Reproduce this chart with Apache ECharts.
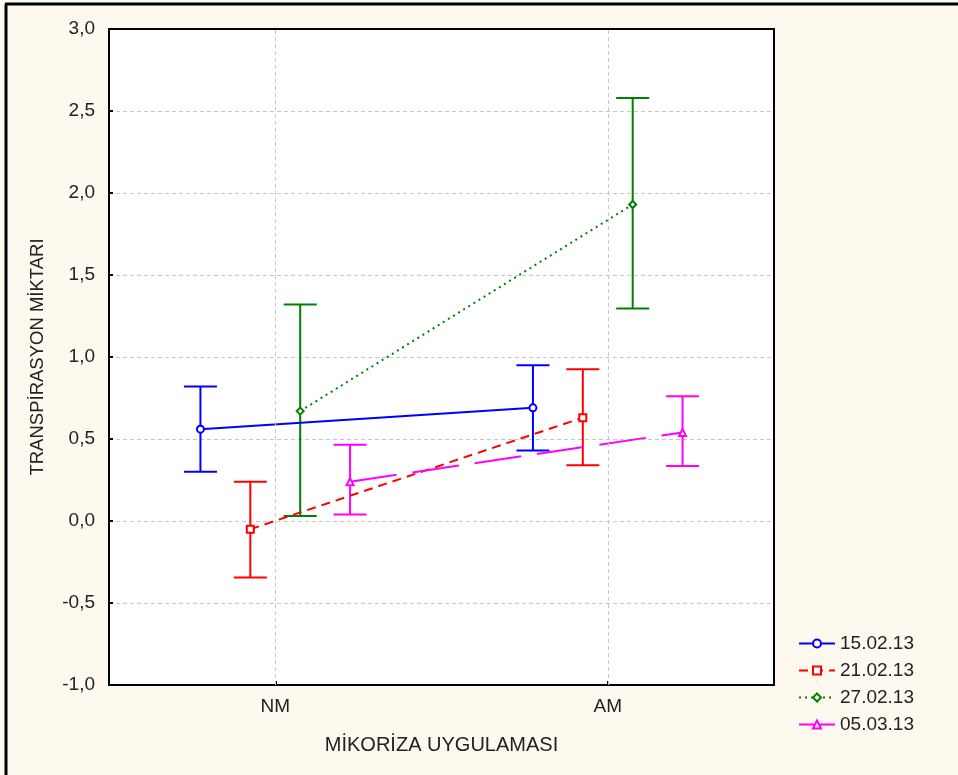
<!DOCTYPE html>
<html>
<head>
<meta charset="utf-8">
<script src="https://cdn.jsdelivr.net/npm/echarts@6/dist/echarts.min.js"></script>
<style>
  html, body { margin: 0; padding: 0; background: #fdf9ef; }
  #chart { width: 958px; height: 775px; }
</style>
</head>
<body>
<div id="chart"></div>
<script>
// gruplar (x ekseni)
const categories = ['NM', 'AM'];
const dates = ['15.02.13', '21.02.13', '27.02.13', '05.03.13'];
// her tarih için grup içi kaydırma (kategori birimi)
const offsets = [-0.225, -0.075, 0.075, 0.225];

// ortalama değerler [NM, AM]
const mean1502 = [0.56, 0.69];
const mean2102 = [-0.05, 0.63];
const mean2702 = [0.67, 1.93];
const mean0503 = [0.24, 0.54];

// hata çubukları alt / üst [NM, AM]
const low1502 = [0.30, 0.43];
const high1502 = [0.82, 0.95];
const low2102 = [-0.345, 0.34];
const high2102 = [0.24, 0.925];
const low2702 = [0.03, 1.295];
const high2702 = [1.32, 2.58];
const low0503 = [0.04, 0.335];
const high0503 = [0.465, 0.76];

const yTicks = [-1, -0.5, 0, 0.5, 1, 1.5, 2, 2.5, 3];

const means = [mean1502, mean2102, mean2702, mean0503];
const lows = [low1502, low2102, low2702, low0503];
const highs = [high1502, high2102, high2702, high0503];
const colors = ['#0000ff', '#ff0000', '#008000', '#ff00ff'];
const symbols = ['emptyCircle', 'emptyRect', 'emptyDiamond', 'emptyTriangle'];
const dashes = ['solid', [9, 6], [2, 4], [47, 16]];

let chart = echarts.init(document.getElementById('chart'));

let series = [];

// dikey kılavuz çizgileri NM / AM
series.push({
  name: 'grid',
  type: 'line',
  data: [],
  z: 0,
  silent: true,
  markLine: {
    symbol: 'none',
    silent: true,
    label: { show: false },
    lineStyle: { color: '#c8c8c8', type: [4, 3], width: 1 },
    data: categories.map((c, i) => ({ xAxis: i + 1 })),
  },
});

// hata çubukları
dates.forEach((d, k) => {
  series.push({
    name: 'err-' + d,
    type: 'custom',
    z: 2,
    data: categories.map((c, i) => [i + 1 + offsets[k], lows[k][i], highs[k][i]]),
    renderItem: function (params, api) {
      const top = api.coord([api.value(0), api.value(2)]);
      const bot = api.coord([api.value(0), api.value(1)]);
      const half = 16.5;
      const style = { stroke: colors[k], lineWidth: 2 };
      return {
        type: 'group',
        children: [
          { type: 'line', shape: { x1: top[0], y1: top[1], x2: bot[0], y2: bot[1] }, style: style },
          { type: 'line', shape: { x1: top[0] - half, y1: top[1], x2: top[0] + half, y2: top[1] }, style: style },
          { type: 'line', shape: { x1: bot[0] - half, y1: bot[1], x2: bot[0] + half, y2: bot[1] }, style: style },
        ],
      };
    },
  });
});

// ortalama çizgileri
dates.forEach((d, k) => {
  series.push({
    name: d,
    type: 'line',
    z: 3,
    data: categories.map((c, i) => [i + 1 + offsets[k], means[k][i]]),
    symbol: symbols[k],
    symbolSize: 7,
    color: colors[k],
    itemStyle: { color: colors[k], borderWidth: 1.5 },
    lineStyle: { color: colors[k], width: 2, type: dashes[k] },
  });
});

const option = {
  backgroundColor: '#fdf9ef',
  animation: false,
  textStyle: { fontFamily: 'Liberation Sans, Arial, sans-serif' },
  grid: {
    left: 109,
    top: 29,
    right: 184,
    bottom: 90,
    show: true,
    backgroundColor: '#ffffff',
    borderColor: '#000',
    borderWidth: 2,
  },
  legend: {
    data: dates,
    orient: 'vertical',
    left: 793,
    top: 628,
    itemWidth: 36,
    itemHeight: 10,
    itemGap: 6,
    textStyle: { fontSize: 19, color: '#222', lineHeight: 21 },
  },
  xAxis: {
    type: 'value',
    min: 0.5,
    max: 2.5,
    name: 'MİKORİZA UYGULAMASI',
    nameLocation: 'middle',
    nameGap: 50,
    nameTextStyle: { fontSize: 20, color: '#222' },
    axisLine: { show: true, onZero: false, lineStyle: { color: '#000', width: 2 } },
    axisTick: { show: true, inside: true, length: 4, customValues: [1, 2], lineStyle: { color: '#000', width: 2 } },
    axisLabel: {
      customValues: [1, 2],
      fontSize: 19,
      color: '#222',
      margin: 12,
      formatter: (v) => categories[Math.round(v) - 1] || '',
    },
    splitLine: { show: false },
  },
  yAxis: {
    type: 'value',
    min: yTicks[0],
    max: yTicks[yTicks.length - 1],
    interval: 0.5,
    name: 'TRANSPİRASYON MİKTARI',
    nameLocation: 'middle',
    nameRotate: 90,
    nameGap: 62,
    nameTextStyle: { fontSize: 18.5, color: '#222' },
    axisLine: { show: true, lineStyle: { color: '#000', width: 2 } },
    axisTick: { show: true, inside: true, length: 4, lineStyle: { color: '#000', width: 2 } },
    axisLabel: {
      fontSize: 19,
      color: '#222',
      margin: 14,
      formatter: (v) => v.toFixed(1).replace('.', ','),
    },
    splitLine: {
      show: true,
      showMinLine: false,
      showMaxLine: false,
      lineStyle: { color: '#c8c8c8', type: [4, 3], width: 1 },
    },
  },
  graphic: [
    { type: 'line', shape: { x1: 5, y1: 4, x2: 958, y2: 4 }, style: { stroke: '#000', lineWidth: 3 } },
    { type: 'line', shape: { x1: 6, y1: 4, x2: 6, y2: 775 }, style: { stroke: '#000', lineWidth: 3 } },
    { type: 'line', z: 10, shape: { x1: 108, y1: 29, x2: 775, y2: 29 }, style: { stroke: '#000', lineWidth: 2 } },
  ],
  series: series,
};

chart.setOption(option);
</script>
</body>
</html>
